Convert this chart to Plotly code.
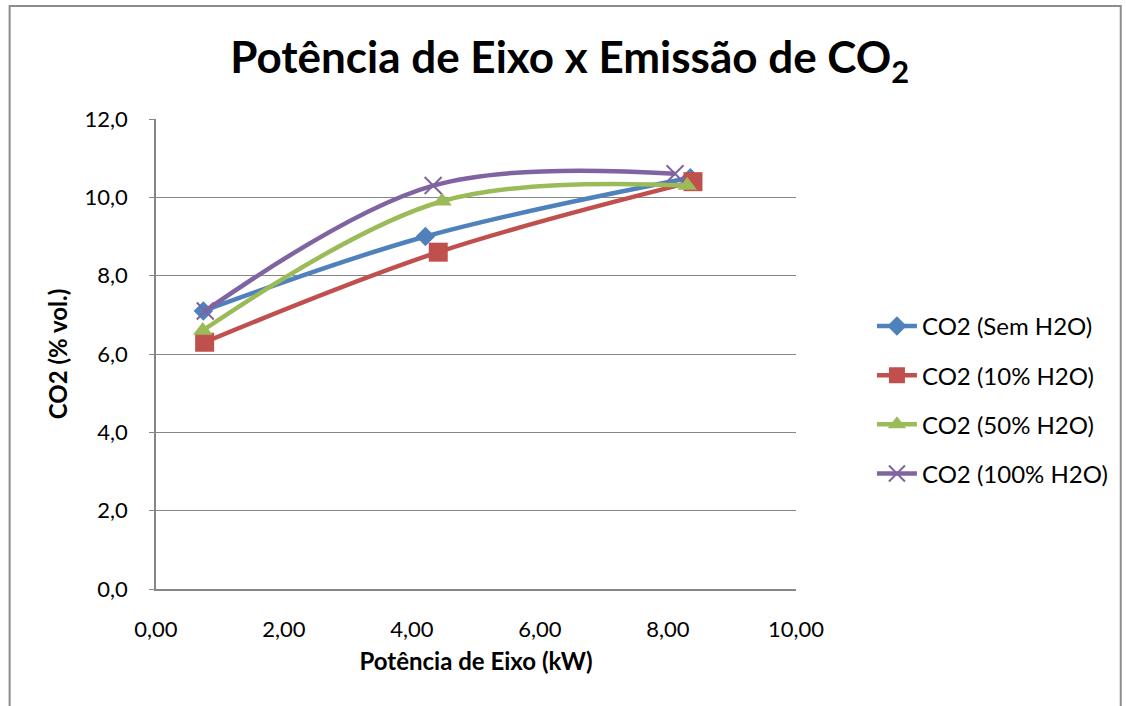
import plotly.graph_objects as go

# Potência de eixo (kW) e CO2 (% vol.) para cada condição de injeção de água
potencia_sem = [0.74, 4.21, 8.35]
co2_sem = [7.1, 9.0, 10.5]

potencia_10 = [0.76, 4.41, 8.39]
co2_10 = [6.3, 8.6, 10.4]

potencia_50 = [0.73, 4.47, 8.30]
co2_50 = [6.6, 9.9, 10.3]

potencia_100 = [0.77, 4.33, 8.11]
co2_100 = [7.1, 10.3, 10.6]

nomes = ["CO2 (Sem H2O)", "CO2 (10% H2O)", "CO2 (50% H2O)", "CO2 (100% H2O)"]
cores = ["#4F81BD", "#C0504D", "#9BBB59", "#8064A2"]
simbolos = ["diamond", "square", "triangle-up", "x-thin-open"]
tamanhos = [15, 19, 17, 17]

FONT = "Lato"

fig = go.Figure()
series = [(potencia_sem, co2_sem), (potencia_10, co2_10),
          (potencia_50, co2_50), (potencia_100, co2_100)]
for i, (xs, ys) in enumerate(series):
    marker = dict(symbol=simbolos[i], size=tamanhos[i], color=cores[i])
    if simbolos[i].startswith("x"):
        marker["line"] = dict(color=cores[i], width=2)
    fig.add_trace(go.Scatter(
        x=xs, y=ys, name=nomes[i], mode="lines+markers",
        line=dict(color=cores[i], width=4.5, shape="spline", smoothing=1.0),
        marker=marker, legendgroup=f"g{i}",
    ))

fig.update_layout(
    width=1126, height=706,
    margin=dict(l=155.5, r=330, t=119, b=117),
    paper_bgcolor="white", plot_bgcolor="white",
    separators=",.",
    font=dict(family=FONT, size=22, color="black"),
    title=dict(
        text="<b>Potência de Eixo x Emissão de CO<sub>2</sub></b>",
        font=dict(family=FONT, size=44, color="black"),
        x=0.506, xanchor="center", xref="container",
        y=1 - 58 / 706, yanchor="middle", yref="container",
    ),
    xaxis=dict(
        range=[0, 10], dtick=2, tick0=0, tickformat=".2f",
        showgrid=False, zeroline=False,
        showline=True, linecolor="#868686", linewidth=1.5,
        ticks="", ticklabelstandoff=20,
        tickfont=dict(family=FONT, size=22),
        title=dict(text="<b>Potência de Eixo (kW)</b>",
                   font=dict(family=FONT, size=24), standoff=12),
    ),
    yaxis=dict(
        range=[0, 12], dtick=2, tick0=0, tickformat=".1f",
        showgrid=True, gridcolor="#868686", gridwidth=1,
        zeroline=False,
        showline=True, linecolor="#868686", linewidth=1.5,
        ticks="outside", ticklen=5, tickcolor="#868686",
        ticklabelstandoff=17,
        tickfont=dict(family=FONT, size=22),
        title=dict(text="<b>CO2 (% vol.)</b>",
                   font=dict(family=FONT, size=24), standoff=10),
    ),
    legend=dict(
        x=(872 - 155.5) / 640.5, xanchor="left", y=0.4025, yanchor="middle",
        font=dict(family=FONT, size=24),
        tracegroupgap=15, itemwidth=40,
        bgcolor="rgba(0,0,0,0)",
    ),
    showlegend=True,
    shapes=[dict(
        type="rect", xref="paper", yref="paper",
        x0=(9 - 155.5) / 640.5, x1=(1121 - 155.5) / 640.5,
        y0=-0.4, y1=(589.3 - 6) / 470.3,
        line=dict(color="#8C8C8C", width=2), fillcolor="rgba(0,0,0,0)",
        layer="below",
    )],
)

fig.write_html("out.html")
